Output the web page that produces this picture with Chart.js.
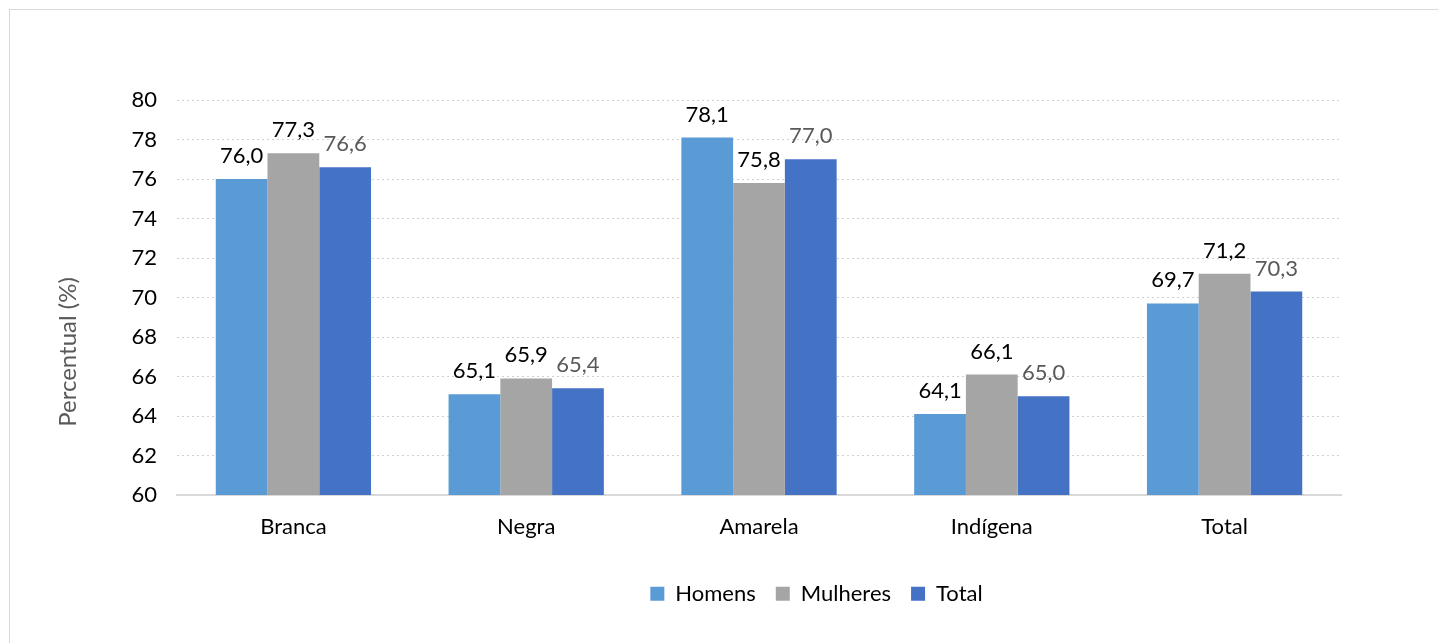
<!DOCTYPE html>
<html>
<head>
<meta charset="utf-8">
<title>Percentual</title>
<script src="https://cdn.jsdelivr.net/npm/chart.js@4"></script>
<style>
  body { margin: 0; background: #fff; overflow: hidden; }
  #frame { position: absolute; left: 9px; top: 9px; width: 1500px; height: 700px; border: 1px solid #d9d9d9; }
  #wrap { position: absolute; left: 0; top: 0; width: 1438px; height: 643px; }
</style>
</head>
<body>
<div id="frame"></div>
<div id="wrap"><canvas id="chart"></canvas></div>
<script>
var categories = ["Branca", "Negra", "Amarela", "Indígena", "Total"];
var homens = [76.0, 65.1, 78.1, 64.1, 69.7];
var mulheres = [77.3, 65.9, 75.8, 66.1, 71.2];
var total = [76.6, 65.4, 77.0, 65.0, 70.3];
var yMin = 60, yMax = 80, yStep = 2;
var yTitle = "Percentual (%)";

var fontFamily = "Lato, 'Open Sans', sans-serif";
var fontSize = 22;

// value labels above each bar, with comma decimals
var valueLabels = {
  id: 'valueLabels',
  afterDatasetsDraw: function(chart) {
    var ctx = chart.ctx;
    ctx.save();
    ctx.font = fontSize + 'px ' + fontFamily;
    ctx.textAlign = 'center';
    ctx.textBaseline = 'alphabetic';
    chart.data.datasets.forEach(function(ds, i) {
      var meta = chart.getDatasetMeta(i);
      ctx.fillStyle = ds.labelColor;
      meta.data.forEach(function(bar, j) {
        ctx.fillText(ds.data[j].toFixed(1).replace('.', ','), bar.x, bar.y - 16);
      });
    });
    ctx.restore();
  }
};

// y axis title, placed like the original
var axisTitle = {
  id: 'axisTitle',
  afterDraw: function(chart) {
    var ctx = chart.ctx;
    ctx.save();
    ctx.translate(68, 352);
    ctx.rotate(-Math.PI / 2);
    ctx.font = '24px ' + fontFamily;
    ctx.fillStyle = '#595959';
    ctx.textAlign = 'center';
    ctx.textBaseline = 'middle';
    ctx.fillText(yTitle, 0, 0);
    ctx.restore();
  }
};

// legend sits a bit right of center and at a fixed height
var legendPlace = {
  id: 'legendPlace',
  afterLayout: function(chart) {
    var lg = chart.legend;
    var h = lg.bottom - lg.top;
    lg.left += 96;
    lg.right += 96;
    lg.top = 596 - 20 - fontSize * 0.6;
    lg.bottom = lg.top + h;
  }
};

var ctx = document.getElementById('chart').getContext('2d');
var chart = new Chart(ctx, {
  type: 'bar',
  data: {
    labels: categories,
    datasets: [
      { label: 'Homens', data: homens, backgroundColor: '#5B9BD5', labelColor: '#000' },
      { label: 'Mulheres', data: mulheres, backgroundColor: '#A5A5A5', labelColor: '#000' },
      { label: 'Total', data: total, backgroundColor: '#4472C4', labelColor: '#595959' }
    ]
  },
  options: {
    responsive: true,
    maintainAspectRatio: false,
    animation: false,
    datasets: { bar: { categoryPercentage: 0.667, barPercentage: 1.0 } },
    layout: { padding: { left: 100, right: 97, top: 100, bottom: 36 } },
    plugins: {
      legend: {
        position: 'bottom',
        labels: {
          boxWidth: 14,
          boxHeight: 14,
          padding: 20,
          color: '#000',
          font: { family: fontFamily, size: fontSize }
        }
      },
      tooltip: { enabled: false }
    },
    scales: {
      x: {
        grid: { display: false, drawTicks: false },
        border: { display: true, color: '#d9d9d9', width: 2 },
        ticks: { color: '#000', padding: 19, font: { family: fontFamily, size: fontSize } },
        afterFit: function(s) { s.height = 60; }
      },
      y: {
        min: yMin,
        max: yMax,
        grid: { color: '#d0d0d0', lineWidth: 1, drawTicks: false },
        border: { display: false, dash: [2, 3] },
        ticks: { stepSize: yStep, color: '#000', padding: 20, font: { family: fontFamily, size: fontSize } },
        afterFit: function(s) { s.width = 77; }
      }
    }
  },
  plugins: [valueLabels, axisTitle, legendPlace]
});
</script>
</body>
</html>
